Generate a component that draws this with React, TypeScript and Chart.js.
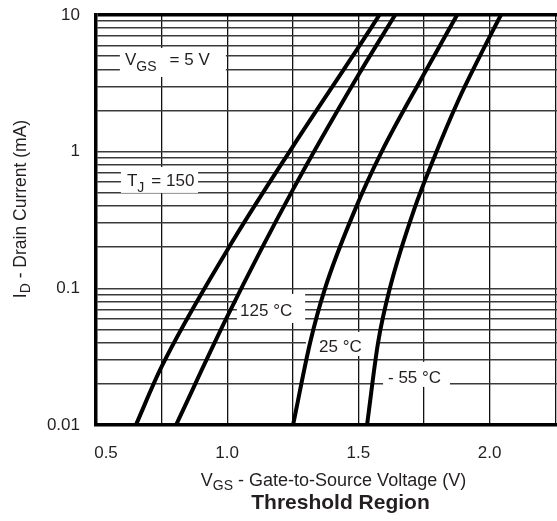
import React, { useEffect, useRef } from 'react';
import { Chart, registerables } from 'chart.js';

Chart.register(...registerables);

// ---------------- data ----------------
const xGridValues = [0.5, 0.75, 1.0, 1.25, 1.5, 1.75, 2.0, 2.25];
const xTickValues = [0.5, 1.0, 1.5, 2.0];
const xTickLabels = ['0.5', '1.0', '1.5', '2.0'];
const yGridValues = [
  0.01, 0.02, 0.03, 0.04, 0.05, 0.06, 0.07, 0.08, 0.09,
  0.1, 0.2, 0.3, 0.4, 0.5, 0.6, 0.7, 0.8, 0.9,
  1, 2, 3, 4, 5, 6, 7, 8, 9, 10,
];
const yTickValues = [0.01, 0.1, 1, 10];
const yTickLabels = ['0.01', '0.1', '1', '10'];

const seriesLabels = ['150 °C', '125 °C', '25 °C', '- 55 °C'];
const vgs150 = [0.652, 0.75, 1.0, 1.25, 1.5, 1.58];
const id150 = [0.01, 0.0267, 0.19, 1.09, 5.8, 10];
const vgs125 = [0.805, 1.0, 1.25, 1.5, 1.64];
const id125 = [0.01, 0.062, 0.525, 3.64, 10];
const vgs25 = [1.251, 1.316, 1.373, 1.487, 1.589, 1.748, 1.876];
const id25 = [0.01, 0.04, 0.1, 0.375, 1.0, 3.64, 10];
const vgsM55 = [1.533, 1.575, 1.62, 1.712, 1.788, 1.88, 1.963, 2.043];
const idM55 = [0.01, 0.04, 0.1, 0.375, 0.9, 2.35, 5.0, 10];

// ---------------- styles ----------------
const FONT = '"Liberation Sans", Arial, Helvetica, sans-serif';
const TEXT = '#231f20';
const xTickShift = [10, 0, 0, 0];

type Part = { t: string; sub?: boolean; dx?: number };

const annotations: { parts: Part[]; box: number[]; at: number[] }[] = [
  { parts: [{ t: 'V' }, { t: 'GS', sub: true }, { t: '= 5 V', dx: 13 }], box: [0.591, 0.995, 5.74, 3.52], at: [0.6105, 4.77] },
  { parts: [{ t: 'T' }, { t: 'J', sub: true }, { t: '= 150', dx: 7 }], box: [0.595, 0.889, 0.773, 0.499], at: [0.618, 0.624] },
  { parts: [{ t: seriesLabels[1] }], box: [1.037, 1.297, 0.091, 0.0558], at: [1.049, 0.0695] },
  { parts: [{ t: seriesLabels[2] }], box: [1.3, 1.571, 0.048, 0.032], at: [1.35, 0.0379] },
  { parts: [{ t: seriesLabels[3] }], box: [1.594, 1.849, 0.029, 0.019], at: [1.613, 0.0225] },
];

function drawRich(
  ctx: CanvasRenderingContext2D,
  parts: Part[],
  x: number,
  y: number,
  align: 'left' | 'center',
  size: number,
  subSize: number,
  subDy: number,
  bold = false
) {
  const main = `${bold ? 'bold ' : ''}${size}px ${FONT}`;
  const sub = `${subSize}px ${FONT}`;
  let total = 0;
  const widths = parts.map((p) => {
    ctx.font = p.sub ? sub : main;
    const w = ctx.measureText(p.t).width + (p.dx || 0);
    total += w;
    return w;
  });
  let cx = align === 'center' ? x - total / 2 : x;
  ctx.textAlign = 'left';
  ctx.textBaseline = 'alphabetic';
  ctx.fillStyle = TEXT;
  parts.forEach((p, i) => {
    ctx.font = p.sub ? sub : main;
    ctx.fillText(p.t, cx + (p.dx || 0), y + (p.sub ? subDy : 0));
    cx += widths[i];
  });
}

const overlayPlugin = {
  id: 'overlay',
  beforeDatasetsDraw(chart: any) {
    const ctx = chart.ctx as CanvasRenderingContext2D;
    const xs = chart.scales.x;
    const ys = chart.scales.y;
    ctx.save();
    for (const a of annotations) {
      const x0 = xs.getPixelForValue(a.box[0]);
      const x1 = xs.getPixelForValue(a.box[1]);
      const y0 = ys.getPixelForValue(a.box[2]);
      const y1 = ys.getPixelForValue(a.box[3]);
      ctx.fillStyle = '#ffffff';
      ctx.fillRect(x0, y0, x1 - x0, y1 - y0);
      drawRich(ctx, a.parts, xs.getPixelForValue(a.at[0]), ys.getPixelForValue(a.at[1]) + 6, 'left', 17, 14, 6);
    }
    ctx.restore();
  },
  afterDraw(chart: any) {
    const ctx = chart.ctx as CanvasRenderingContext2D;
    const xs = chart.scales.x;
    const area = chart.chartArea;
    ctx.save();
    ctx.fillStyle = TEXT;
    ctx.font = `17px ${FONT}`;
    ctx.textAlign = 'center';
    ctx.textBaseline = 'alphabetic';
    xTickValues.forEach((v, i) => {
      ctx.fillText(xTickLabels[i], xs.getPixelForValue(v) + xTickShift[i], xs.top + 33);
    });
    const cx = (area.left + area.right) / 2;
    drawRich(ctx, [{ t: 'V' }, { t: 'GS', sub: true }, { t: ' - Gate-to-Source Voltage (V)' }], cx + 7, xs.top + 61, 'center', 18, 14, 4);
    drawRich(ctx, [{ t: 'Threshold Region' }], cx + 14, xs.top + 84, 'center', 21, 14, 0, true);
    // y title
    ctx.translate(25.5, (area.top + area.bottom) / 2 - 11);
    ctx.rotate(-Math.PI / 2);
    drawRich(ctx, [{ t: 'I' }, { t: 'D', sub: true }, { t: ' - Drain Current (mA)' }], 0, 0, 'center', 17.5, 14, 4);
    ctx.restore();
  },
};

function toPoints(xs: number[], ys: number[]) {
  return xs.map((x, i) => ({ x, y: ys[i] }));
}

export default function App() {
  const ref = useRef<HTMLCanvasElement | null>(null);

  useEffect(() => {
    document.body.style.margin = '0';
    if (!ref.current) return;
    const lineStyle = {
      borderColor: '#000000',
      borderWidth: 4,
      pointRadius: 0,
      fill: false,
      cubicInterpolationMode: 'monotone' as const,
    };
    const chart = new Chart(ref.current, {
      type: 'line',
      data: {
        datasets: [
          { label: seriesLabels[0], data: toPoints(vgs150, id150), ...lineStyle },
          { label: seriesLabels[1], data: toPoints(vgs125, id125), ...lineStyle },
          { label: seriesLabels[2], data: toPoints(vgs25, id25), ...lineStyle },
          { label: seriesLabels[3], data: toPoints(vgsM55, idM55), ...lineStyle },
        ],
      },
      options: {
        animation: false,
        responsive: false,
        events: [],
        layout: { padding: { top: 15, right: 0, left: 0, bottom: 0 } },
        plugins: { legend: { display: false }, tooltip: { enabled: false } },
        scales: {
          x: {
            type: 'linear',
            min: 0.5,
            max: 2.257,
            afterBuildTicks: (scale: any) => {
              scale.ticks = xGridValues.map((v) => ({ value: v }));
            },
            afterFit: (scale: any) => {
              scale.height = 96;
              scale.paddingLeft = 0;
              scale.paddingRight = 0;
            },
            ticks: { display: false },
            grid: { color: '#111111', lineWidth: 1.3, drawTicks: false },
            border: { display: true, color: '#000000', width: 3.5 },
          },
          y: {
            type: 'logarithmic',
            min: 0.01,
            max: 10,
            afterBuildTicks: (scale: any) => {
              scale.ticks = yGridValues.map((v) => ({ value: v }));
            },
            afterFit: (scale: any) => {
              scale.width = 96;
              scale.paddingTop = 0;
              scale.paddingBottom = 0;
            },
            ticks: {
              autoSkip: false,
              padding: 16,
              color: TEXT,
              font: { family: FONT, size: 17 },
              callback: (value: any) => {
                const idx = yTickValues.findIndex((v) => Math.abs(v - Number(value)) < 1e-9);
                return idx >= 0 ? yTickLabels[idx] : '';
              },
            },
            grid: {
              color: (c: any) => (c.tick && c.tick.value === 10 ? '#000000' : '#3a3a3a'),
              lineWidth: (c: any) => (c.tick && c.tick.value === 10 ? 3.5 : 1.6),
              drawTicks: false,
            },
            border: { display: true, color: '#000000', width: 3.5 },
          },
        },
      },
      plugins: [overlayPlugin],
    });
    return () => chart.destroy();
  }, []);

  return (
    <div style={{ width: 557, height: 521 }}>
      <canvas ref={ref} width={557} height={521} style={{ display: 'block' }} />
    </div>
  );
}
